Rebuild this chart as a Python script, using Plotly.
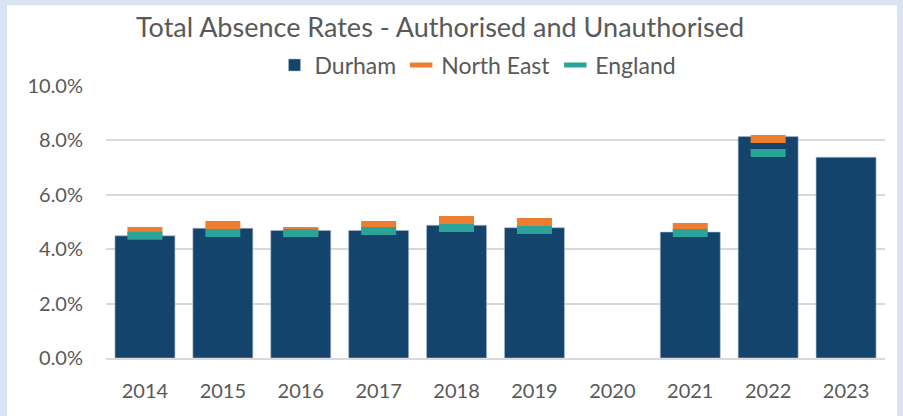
import plotly.graph_objects as go

years = ["2014", "2015", "2016", "2017", "2018", "2019", "2020", "2021", "2022", "2023"]
durham = [4.49, 4.77, 4.69, 4.69, 4.88, 4.79, None, 4.63, 8.14, 7.38]
north_east = [4.67, 4.89, 4.67, 4.89, 5.07, 5.00, None, 4.82, 8.05, None]
england = [4.49, 4.60, 4.60, 4.67, 4.78, 4.71, None, 4.60, 7.54, None]

y_ticks = [0, 2, 4, 6, 8, 10]
y_tick_labels = ["0.0%", "2.0%", "4.0%", "6.0%", "8.0%", "10.0%"]

NAVY = "#14436B"
ORANGE = "#ED7D31"
TEAL = "#2AA498"
GREY = "#595959"
FONT = "Lato"

W, H = 903, 416
L, R, T, B = 106, 18, 86, 57.5
pw, ph = W - L - R, H - T - B

def px_x(x):
    return (x - L) / pw

def px_y(y):
    return (H - B - y) / ph

def pct(vals):
    return [None if v is None else v / 100 for v in vals]

fig = go.Figure()
fig.add_trace(go.Bar(
    x=years, y=pct(durham), name="Durham",
    marker=dict(color=NAVY, line=dict(color="#A9BBCD", width=0.6)),
))
fig.add_trace(go.Scatter(
    x=years, y=pct(north_east), name="North East",
    mode="markers",
    marker=dict(symbol="line-ew", size=25, color=ORANGE, line=dict(color=ORANGE, width=8)),
))
fig.add_trace(go.Scatter(
    x=years, y=pct(england), name="England",
    mode="markers",
    marker=dict(symbol="line-ew", size=25, color=TEAL, line=dict(color=TEAL, width=8)),
))

fig.update_layout(
    width=W, height=H,
    margin=dict(l=L, r=R, t=T, b=B, pad=0, autoexpand=False),
    paper_bgcolor="#DAE3F3",
    plot_bgcolor="white",
    bargap=0.23,
    font=dict(family=FONT, color=GREY, size=20),
    title=dict(
        text="Total Absence Rates - Authorised and Unauthorised",
        x=440 / W, xanchor="center", xref="container",
        y=1 - 28 / H, yanchor="middle", yref="container",
        font=dict(family=FONT, size=27, color=GREY),
    ),
    legend=dict(
        orientation="h", xanchor="center", x=px_x(478), yanchor="middle", y=px_y(65),
        font=dict(family=FONT, size=23, color=GREY),
        bgcolor="rgba(0,0,0,0)", traceorder="normal",
    ),
    showlegend=True,
    shapes=[dict(
        type="rect", xref="paper", yref="paper",
        x0=px_x(7), x1=px_x(897), y0=px_y(430), y1=px_y(5),
        fillcolor="white", line=dict(width=0), layer="below",
    )],
    xaxis=dict(
        range=[-0.5, 9.5],
        showgrid=False, showline=True, linecolor="#D9D9D9", linewidth=2,
        ticks="", tickfont=dict(family=FONT, size=20, color=GREY),
        ticklabelstandoff=14,
    ),
    yaxis=dict(
        range=[0, 0.1], tickvals=pct(y_ticks), ticktext=y_tick_labels,
        showgrid=True, gridcolor="#D9D9D9", gridwidth=2, zeroline=False,
        showline=False, ticks="", tickfont=dict(family=FONT, size=20, color=GREY),
        ticklabelstandoff=22,
    ),
)

fig.write_html(
    "out.html",
    config={"displayModeBar": False},
    post_script="document.body.style.margin='0';document.body.style.overflow='hidden';",
)
